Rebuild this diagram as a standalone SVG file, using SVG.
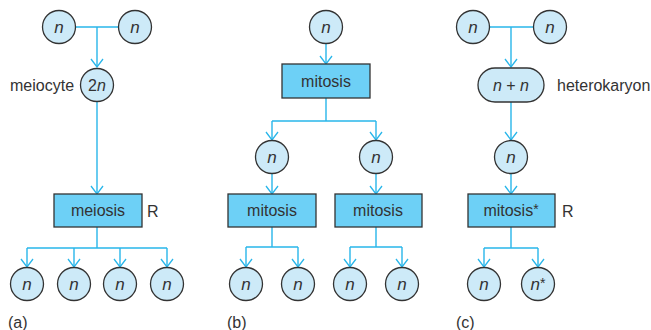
<svg xmlns="http://www.w3.org/2000/svg" width="651" height="330" viewBox="0 0 651 330">
<defs>
<marker id="ah" markerWidth="10" markerHeight="14" refX="9" refY="7" orient="auto" markerUnits="userSpaceOnUse" viewBox="0 0 10 14">
<path d="M1,1 L9,7 L1,13" fill="none" stroke="#29b6ea" stroke-width="1.3"/>
</marker>
<style>
.c{fill:#cdeaf8;stroke:#333;stroke-width:1.3}
.b{fill:#6dd0f6;stroke:#333;stroke-width:1.3}
.l{fill:none;stroke:#29b6ea;stroke-width:1.4}
.a{marker-end:url(#ah)}
text{font-family:"Liberation Sans",Arial,sans-serif;font-size:16px;fill:#333}
.n{font-style:italic;text-anchor:middle;font-size:17px}
.m{text-anchor:middle}
.s{font-size:14px;font-style:normal}
</style>
</defs>
<g id="connectors">
<path class="l" d="M76,27 H119"/>
<path class="l a" d="M97,27 V67"/>
<path class="l a" d="M97,101 V194"/>
<path class="l" d="M97,227 V248 M27,248 H167"/>
<path class="l a" d="M27,248 V267"/>
<path class="l a" d="M74,248 V267"/>
<path class="l a" d="M120,248 V267"/>
<path class="l a" d="M167,248 V267"/>
<path class="l a" d="M326,44 V64"/>
<path class="l" d="M326,98 V121 M272,121 H376"/>
<path class="l a" d="M272,121 V140"/>
<path class="l a" d="M376,121 V140"/>
<path class="l a" d="M272,174 V194"/>
<path class="l a" d="M376,174 V194"/>
<path class="l" d="M272,227 V247 M246,247 H298"/>
<path class="l a" d="M246,247 V267"/>
<path class="l a" d="M298,247 V267"/>
<path class="l" d="M376,227 V247 M350,247 H402"/>
<path class="l a" d="M350,247 V267"/>
<path class="l a" d="M402,247 V267"/>
<path class="l" d="M490,27 H533"/>
<path class="l a" d="M511,27 V67"/>
<path class="l a" d="M511,102 V140"/>
<path class="l a" d="M511,174 V194"/>
<path class="l" d="M511,227 V248 M484,248 H538"/>
<path class="l a" d="M484,248 V267"/>
<path class="l a" d="M538,248 V267"/>
</g>
<g id="a-n1"><circle class="c" cx="59" cy="27" r="16.5"/><text class="n" x="59" y="33">n</text></g>
<g id="a-n2"><circle class="c" cx="135" cy="27" r="16.5"/><text class="n" x="135" y="33">n</text></g>
<g id="a-2n"><circle class="c" cx="97" cy="85" r="16.5"/><text class="m" x="97" y="91" font-size="17">2<tspan font-style="italic">n</tspan></text></g>
<text id="a-meiocyte" x="10" y="91">meiocyte</text>
<g id="a-meiosis"><rect class="b" x="54" y="194" width="88" height="33"/><text class="m" x="98" y="216">meiosis</text></g>
<text id="a-R" x="147" y="217">R</text>
<g id="a-o1"><circle class="c" cx="27" cy="284" r="16.5"/><text class="n" x="27" y="290">n</text></g>
<g id="a-o2"><circle class="c" cx="74" cy="284" r="16.5"/><text class="n" x="74" y="290">n</text></g>
<g id="a-o3"><circle class="c" cx="120" cy="284" r="16.5"/><text class="n" x="120" y="290">n</text></g>
<g id="a-o4"><circle class="c" cx="167" cy="284" r="16.5"/><text class="n" x="167" y="290">n</text></g>
<text id="label-a" x="8" y="328">(a)</text>
<g id="b-n"><circle class="c" cx="326" cy="27" r="16.5"/><text class="n" x="326" y="33">n</text></g>
<g id="b-mitosis"><rect class="b" x="282" y="64" width="88" height="34"/><text class="m" x="326" y="87">mitosis</text></g>
<g id="b-n1"><circle class="c" cx="272" cy="157" r="16.5"/><text class="n" x="272" y="163">n</text></g>
<g id="b-n2"><circle class="c" cx="376" cy="157" r="16.5"/><text class="n" x="376" y="163">n</text></g>
<g id="b-mitosis1"><rect class="b" x="228" y="194" width="88" height="33"/><text class="m" x="272" y="216">mitosis</text></g>
<g id="b-mitosis2"><rect class="b" x="335" y="194" width="87" height="33"/><text class="m" x="378" y="216">mitosis</text></g>
<g id="b-o1"><circle class="c" cx="246" cy="284" r="16.5"/><text class="n" x="246" y="290">n</text></g>
<g id="b-o2"><circle class="c" cx="298" cy="284" r="16.5"/><text class="n" x="298" y="290">n</text></g>
<g id="b-o3"><circle class="c" cx="350" cy="284" r="16.5"/><text class="n" x="350" y="290">n</text></g>
<g id="b-o4"><circle class="c" cx="402" cy="284" r="16.5"/><text class="n" x="402" y="290">n</text></g>
<text id="label-b" x="227" y="328">(b)</text>
<g id="c-n1"><circle class="c" cx="473" cy="27" r="16.5"/><text class="n" x="473" y="33">n</text></g>
<g id="c-n2"><circle class="c" cx="550" cy="27" r="16.5"/><text class="n" x="550" y="33">n</text></g>
<g id="c-hk"><rect class="c" x="478" y="68" width="66" height="34" rx="17"/><text class="m" x="511" y="91" font-size="17"><tspan font-style="italic">n</tspan> + <tspan font-style="italic">n</tspan></text></g>
<text id="c-heterokaryon" x="557" y="91">heterokaryon</text>
<g id="c-n"><circle class="c" cx="511" cy="157" r="16.5"/><text class="n" x="511" y="163">n</text></g>
<g id="c-mitosis"><rect class="b" x="468" y="194" width="87" height="33"/><text class="m" x="511" y="216">mitosis<tspan class="s" dy="-2">*</tspan></text></g>
<text id="c-R" x="562" y="217">R</text>
<g id="c-o1"><circle class="c" cx="484" cy="284" r="16.5"/><text class="n" x="484" y="290">n</text></g>
<g id="c-o2"><circle class="c" cx="538" cy="284" r="16.5"/><text class="n" x="538" y="290">n<tspan class="s" dy="-2">*</tspan></text></g>
<text id="label-c" x="456" y="328">(c)</text>
</svg>
